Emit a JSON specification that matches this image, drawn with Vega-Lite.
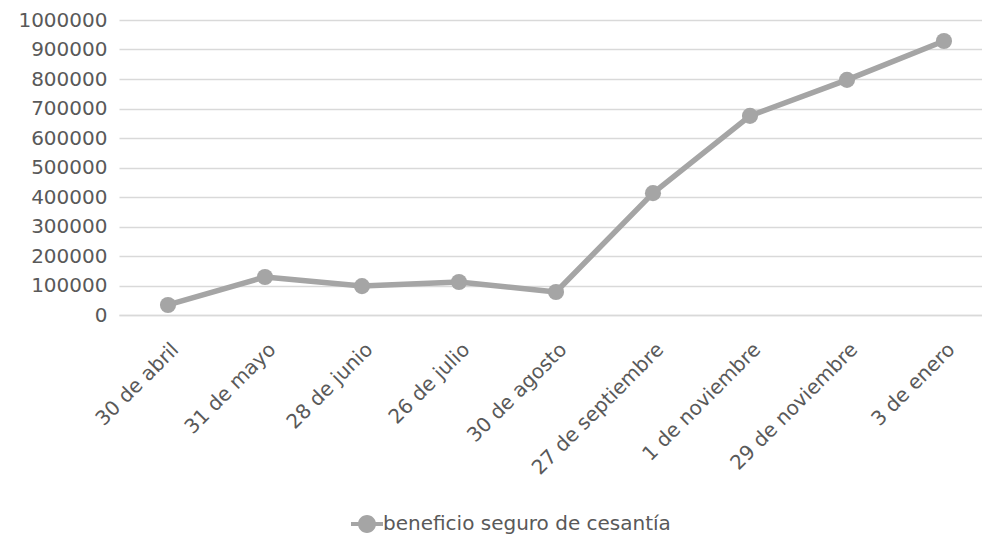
{
  "$schema": "https://vega.github.io/schema/vega-lite/v6.json",
  "width": 863,
  "height": 295,
  "autosize": "none",
  "padding": {"left": 119, "top": 20, "right": 0, "bottom": 229},
  "background": "#ffffff",
  "data": {
    "values": [
      {"fecha": "30 de abril", "valor": 34000, "serie": "beneficio seguro de cesantía"},
      {"fecha": "31 de mayo", "valor": 129000, "serie": "beneficio seguro de cesantía"},
      {"fecha": "28 de junio", "valor": 98000, "serie": "beneficio seguro de cesantía"},
      {"fecha": "26 de julio", "valor": 112000, "serie": "beneficio seguro de cesantía"},
      {"fecha": "30 de agosto", "valor": 78000, "serie": "beneficio seguro de cesantía"},
      {"fecha": "27 de septiembre", "valor": 413000, "serie": "beneficio seguro de cesantía"},
      {"fecha": "1 de noviembre", "valor": 675000, "serie": "beneficio seguro de cesantía"},
      {"fecha": "29 de noviembre", "valor": 797000, "serie": "beneficio seguro de cesantía"},
      {"fecha": "3 de enero", "valor": 929000, "serie": "beneficio seguro de cesantía"}
    ]
  },
  "mark": {
    "type": "line",
    "strokeWidth": 5.5,
    "strokeJoin": "round",
    "point": {"size": 260, "filled": true, "opacity": 1}
  },
  "encoding": {
    "x": {
      "field": "fecha",
      "type": "ordinal",
      "sort": null,
      "title": null,
      "scale": {"type": "point", "padding": 0.4485, "align": 0.563},
      "axis": {
        "labelAngle": -45,
        "labelFontSize": 20,
        "labelColor": "#595959",
        "labelPadding": 24,
        "labelLimit": 0,
        "ticks": false,
        "grid": false,
        "domain": true,
        "domainColor": "#d9d9d9",
        "domainWidth": 1.5
      }
    },
    "y": {
      "field": "valor",
      "type": "quantitative",
      "title": null,
      "scale": {"domain": [0, 1000000], "nice": false},
      "axis": {
        "values": [0, 100000, 200000, 300000, 400000, 500000, 600000, 700000, 800000, 900000, 1000000],
        "format": "d",
        "labelFontSize": 20,
        "labelColor": "#595959",
        "labelPadding": 12,
        "ticks": false,
        "domain": false,
        "gridColor": "#d9d9d9",
        "gridWidth": 1.5
      }
    },
    "color": {
      "field": "serie",
      "type": "nominal",
      "scale": {"range": ["#a5a5a5"]},
      "legend": {
        "title": null,
        "orient": "none",
        "legendX": 238,
        "legendY": 494,
        "labelFontSize": 20,
        "labelColor": "#595959",
        "labelLimit": 0,
        "symbolType": "M-1.6,-0.2H1.6V0.2H-1.6Z M-0.9,0 A0.9,0.9 0 1,1 0.9,0 A0.9,0.9 0 1,1 -0.9,0 Z",
        "symbolSize": 400,
        "symbolFillColor": "#a5a5a5",
        "symbolStrokeColor": "#a5a5a5",
        "symbolStrokeWidth": 0,
        "symbolOpacity": 1,
        "labelOffset": 6
      }
    }
  },
  "config": {
    "view": {"stroke": null},
    "font": "DejaVu Sans"
  }
}
